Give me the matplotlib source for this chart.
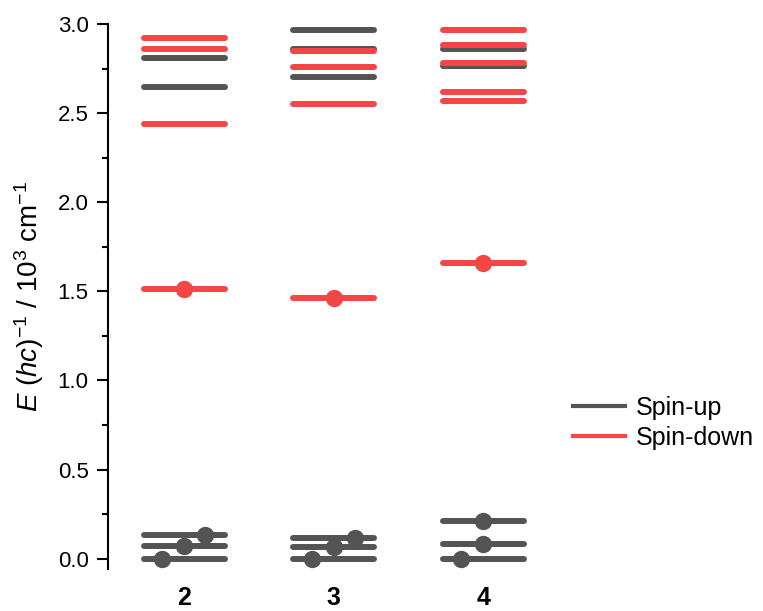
import numpy as np
import matplotlib.pyplot as plt
from matplotlib.lines import Line2D
from matplotlib.ticker import MultipleLocator

plt.rcParams['font.family'] = ['Liberation Sans', 'DejaVu Sans']
plt.rcParams['mathtext.fontset'] = 'custom'
plt.rcParams['mathtext.rm'] = 'Liberation Sans'
plt.rcParams['mathtext.it'] = 'Liberation Sans:italic'

# energy levels, 10^3 cm^-1
compounds = [2, 3, 4]
spin_up = [
    [0.0, 0.070, 0.135, 2.647, 2.809],
    [0.0, 0.063, 0.116, 2.704, 2.861, 2.966],
    [0.0, 0.084, 0.213, 2.764, 2.861],
]
spin_down = [
    [1.512, 2.440, 2.861, 2.921],
    [1.465, 2.549, 2.757, 2.850],
    [1.660, 2.568, 2.619, 2.779, 2.885, 2.968],
]
# marked (ground-state) levels and where the dot sits along the line
up_marked = [[0.0, 0.070, 0.135], [0.0, 0.063, 0.116], [0.0, 0.084, 0.213]]
up_dot_dx = [[-0.147, 0.0, 0.14], [-0.147, 0.0, 0.14], [-0.15, 0.0, 0.0]]
down_marked = [1.512, 1.465, 1.660]

grey = '#545454'
red = '#F54545'
half = 0.27

fig = plt.figure(figsize=(7.63, 6.11), dpi=100)
ax = fig.add_axes([0.1415, 0.0687, 0.59, 0.892])

for i, c in enumerate(compounds):
    for e in spin_up[i]:
        ax.plot([c - half, c + half], [e, e], color=grey, lw=4.3,
                solid_capstyle='round', zorder=2)
    for e in spin_down[i]:
        ax.plot([c - half, c + half], [e, e], color=red, lw=4.3,
                solid_capstyle='round', zorder=3)
    ax.plot(np.array(up_dot_dx[i]) + c, up_marked[i], 'o', color=grey,
            ms=12.5, mec='none', zorder=4)
    ax.plot([c], [down_marked[i]], 'o', color=red, ms=12.5, mec='none',
            zorder=4)

ax.set_xlim(1.49, 4.5)
ax.set_ylim(-0.058, 3.0)
ax.set_xticks(compounds)
ax.set_xticklabels([str(c) for c in compounds], fontsize=18, fontweight='bold')
ax.tick_params(axis='x', length=0, pad=12)
ax.yaxis.set_minor_locator(MultipleLocator(0.25))
ax.set_yticks(np.arange(0, 3.01, 0.5))
ax.set_yticklabels([f'{v:.1f}' for v in np.arange(0, 3.01, 0.5)], fontsize=16)
ax.tick_params(axis='y', which='major', length=8, width=1.5, direction='out',
               pad=6)
ax.tick_params(axis='y', which='minor', length=4.5, width=1.5, direction='out')
for s in ['top', 'right', 'bottom']:
    ax.spines[s].set_visible(False)
ax.spines['left'].set_linewidth(1.5)
ax.set_ylabel(r'$\mathit{E}$ $(\mathit{hc})^{-1}$ / 10$^{3}$ cm$^{-1}$',
              fontsize=20, labelpad=8)

handles = [Line2D([], [], color=grey, lw=3),
           Line2D([], [], color=red, lw=3)]
fig.legend(handles, ['Spin-up', 'Spin-down'], loc='center left',
           bbox_to_anchor=(0.728, 0.3077), frameon=False, fontsize=18,
           handlelength=2.1, handletextpad=0.4, labelspacing=0.25,
           borderpad=0.2)

fig.savefig('out.png', dpi=100)
